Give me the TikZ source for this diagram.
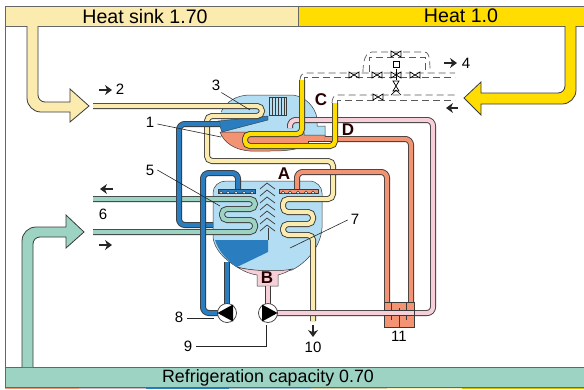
\documentclass[tikz,border=0pt]{standalone}
\usepackage{fontspec}
\setmainfont{Liberation Sans}
\usetikzlibrary{arrows.meta}
\definecolor{sinkc}{HTML}{FBEBAE}
\definecolor{heatc}{HTML}{FFDD00}
\definecolor{coldc}{HTML}{9DD3C2}
\definecolor{bluec}{HTML}{2A7DBF}
\definecolor{skyc}{HTML}{B3DDF2}
\definecolor{saltc}{HTML}{F29373}
\definecolor{pinkc}{HTML}{F6CFD8}
\definecolor{edgec}{HTML}{3A3A3A}
\tikzset{
  pipe/.style={draw=edgec, line width=0.9pt, double=#1, double distance=4.2pt, rounded corners=6pt},
  bar/.style={draw=black!60, fill=#1, line width=0.7pt},
  bigarrow/.style={draw=edgec, line width=0.8pt, fill=#1},
  dashpipe/.style={draw=black!65, line width=0.7pt, dash pattern=on 7pt off 4pt},
  valve/.style={draw=black, line width=0.7pt, fill=white},
  leader/.style={draw=black!85, line width=0.6pt},
  lbl/.style={font=\fontsize{15}{15}\selectfont, inner sep=0pt},
  letter/.style={font=\fontsize{17}{17}\selectfont\bfseries, text=black!85!red, inner sep=0pt},
  flow/.style={-{Stealth[length=7pt,width=10pt]}, line width=2pt, black!85},
  nozzle/.style={draw=edgec, fill=white, line width=0.5pt},
  pump/.style={circle, draw=edgec, fill=white, line width=0.7pt, minimum size=19pt, inner sep=0pt},
}
\newcommand{\valveh}[2]{\draw[valve] (#1-5,#2-3) -- (#1+5,#2+3) -- (#1+5,#2-3) -- (#1-5,#2+3) -- cycle;}
\newcommand{\valvev}[2]{\draw[valve] (#1-3,#2-5) -- (#1+3,#2+5) -- (#1-3,#2+5) -- (#1+3,#2-5) -- cycle;}
\begin{document}
\begin{tikzpicture}[x=1pt, y=-1pt]
\useasboundingbox (0,0) rectangle (584,389);
\draw[draw=black!60, line width=0.8pt] (5,26) -- (5,367);

% bars
\fill[saltc] (5,386) rectangle (79,389);
\fill[pinkc!70!gray] (79,386) rectangle (146,389);
\fill[bluec] (146,386) rectangle (229,389);
\fill[skyc!70!gray] (229,386) rectangle (311,389);
\fill[sinkc!70!gray] (311,386) rectangle (387,389);
\fill[sinkc] (387,386) rectangle (462,389);
\fill[heatc!85!black] (462,386) rectangle (584,389);
\draw[bar=sinkc] (5,6) rectangle (298,26);
\draw[bar=heatc] (298,6) rectangle (584,26);
\draw[bar=coldc] (5,367) rectangle (584,387);
\node[font=\fontsize{19.6}{20}\selectfont, inner sep=0pt] (sinklbl) at (145,16) {Heat sink 1.70};
\node[font=\fontsize{19.6}{20}\selectfont, inner sep=0pt] (heatlbl) at (461,16) {Heat 1.0};
\node[font=\fontsize{17.8}{18}\selectfont, inner sep=0pt] (coldlbl) at (268,378) {Refrigeration capacity 0.70};

% big arrows
\draw[bigarrow=sinkc] (27,26) [rounded corners=14pt] -- (27,112) [sharp corners] -- (70,112) -- (70,122) -- (89,106) -- (70,89) -- (70,102) [rounded corners=7pt] -- (38,102) [sharp corners] -- (38,26);
\draw[bigarrow=heatc] (576,26) [rounded corners=14pt] -- (576,104) [sharp corners] -- (481,104) -- (481,115) -- (464,98) -- (481,82) -- (481,93) [rounded corners=7pt] -- (565,93) [sharp corners] -- (565,26);
\draw[bigarrow=coldc] (22,367) [rounded corners=14pt] -- (22,227) [sharp corners] -- (66,227) -- (66,215) -- (84,232) -- (66,248) -- (66,237) [rounded corners=7pt] -- (33,237) [sharp corners] -- (33,367);

% upper vessel
\fill[skyc] (221,112) .. controls (226,102) and (236,95) .. (250,95) -- (293,95) .. controls (306,97) and (315,107) .. (317,118) -- (317,126) -- (325,126) -- (325,137) -- (221,137) -- cycle;
\draw[edgec, line width=0.5pt] (221,112) .. controls (226,102) and (236,95) .. (250,95) -- (293,95) .. controls (306,97) and (315,107) .. (317,118) -- (317,126) -- (325,126) -- (325,137);
\fill[saltc, draw=edgec, line width=0.5pt] (220,132) -- (304,132) -- (304,135) -- (325,135) -- (325,145) -- (304,146) .. controls (296,150) and (285,151) .. (270,151) -- (250,151) .. controls (235,150) and (224,143) .. (220,132) -- cycle;
\fill[bluec, draw=edgec, line width=0.4pt] (218,121) -- (268,116) -- (268,120) -- (222,132) -- cycle;
\draw[edgec, fill=skyc, line width=0.6pt] (269,97) rectangle (286,115);
\foreach \xk in {272,275,278,281,284}
  \draw[edgec, line width=0.6pt] (\xk,97) -- (\xk,115);

% lower vessel
\fill[skyc, draw=edgec, line width=0.5pt] (213,238) -- (213,193) .. controls (213,186) and (219,181) .. (226,181) -- (309,181) .. controls (317,181) and (322,187) .. (322,193) -- (322,228) .. controls (321,245) and (308,262) .. (292,270) .. controls (280,272) and (255,272) .. (237,267) .. controls (225,260) and (215,250) .. (213,238) -- cycle;
\fill[pinkc, draw=edgec, line width=0.5pt] (237,267) .. controls (250,271) and (280,272) .. (292,269) .. controls (287,272) and (282,274) .. (278,275) -- (278,286) -- (257,286) -- (257,275) .. controls (250,274) and (243,271) .. (237,267) -- cycle;
\fill[bluec] (215,240) -- (268,240) -- (268,252) -- (237,267) .. controls (226,260) and (218,250) .. (215,240) -- cycle;

% chevrons
\foreach \yk in {189,196,203,210,217,224,231}
  \draw[edgec, line width=0.7pt] (260,\yk) -- (267,\yk-6) -- (275,\yk);
\draw[edgec, line width=0.7pt] (268,228) -- (268,240);

% pipes
\draw[pipe=sinkc, rounded corners=5pt] (93,106) -- (262,106) -- (262,116) -- (207,116) -- (207,161) -- (333,161) -- (333,199) -- (283,199) -- (283,212) -- (313,212) -- (313,224) -- (283,224) -- (283,235) -- (313,235) -- (313,321);
\draw[pipe=coldc, rounded corners=5pt] (93,199) -- (255,199) -- (255,209) -- (222,209) -- (222,220) -- (255,220) -- (255,232) -- (93,232);
\draw[pipe=bluec] (213,225) -- (179,225) -- (179,124) -- (220,124);
\draw[pipe=bluec] (218,313) -- (203,313) -- (203,173) -- (238,173) -- (238,190);
\draw[pipe=bluec, rounded corners=0pt] (227,262) -- (227,305);
\draw[pipe=pinkc] (268,286) -- (268,305);
\draw[pipe=pinkc] (276,313) -- (433,313) -- (433,120) -- (290,120) -- (290,128);
\draw[pipe=saltc] (387,302) -- (387,172) -- (297,172) -- (297,190);
\draw[pipe=saltc] (325,139) -- (411,139) -- (411,302);
\fill[white, draw=edgec, line width=0.3pt] (308,141.5) rectangle (331,143.5);
\draw[pipe=heatc, rounded corners=5pt] (302,80) -- (302,134) -- (245,134) -- (245,146) -- (335,146) -- (335,103);

% spray bars
\fill[bluec, draw=edgec, line width=0.4pt] (218,189) rectangle (255,193);
\fill[saltc, draw=edgec, line width=0.4pt] (279,189) rectangle (318,193);
\foreach \xk in {221,228,236,244,252,283,290,298,306,313}
  \draw[nozzle] (\xk,192.5) circle (1.6pt);

% box 11
\draw[fill=saltc, draw=edgec, line width=0.6pt] (384,302) rectangle (414,327);
\foreach \xk in {391,406}
  \draw[edgec, line width=0.4pt] (\xk,302) -- (\xk,320);
\draw[edgec, line width=0.4pt] (399,308) -- (399,327);
\draw[pipe=pinkc] (384,313) -- (414,313);

% pumps
\node[pump] (pumpa) at (227,313) {};
\node[pump] (pumpb) at (268,313) {};
\fill[black] (217.5,313) -- (233,304.5) -- (233,321.5) -- cycle;
\fill[black] (277.5,313) -- (262,304.5) -- (262,321.5) -- cycle;

% dashed lines
\draw[dashpipe] (300,80) .. controls (300,76) and (302,73) .. (306,73) -- (455,73);
\draw[dashpipe] (304,80) -- (304,77) -- (455,77);
\draw[dashpipe] (332,103) .. controls (332,98) and (334,95) .. (338,95) -- (455,95);
\draw[dashpipe] (337,103) -- (337,100) -- (455,100);
\draw[dashpipe] (363,72) .. controls (363,60) and (366,52) .. (372,52) -- (424,52) .. controls (428,52) and (430,54) .. (430,72);
\draw[dashpipe] (369,72) -- (369,57) -- (425,57) -- (425,72);
\valveh{396}{54}
\valveh{354}{75}
\valveh{377}{75}
\valveh{396}{75}
\valveh{415}{75}
\valveh{378}{97}
\valvev{396}{86}
\draw[black, line width=0.7pt] (396,69) -- (396,80);
\draw[black, fill=white, line width=0.7pt] (393,61) rectangle (399,67);
\draw[black, line width=0.7pt] (391,95) -- (396,90) -- (401,95);

% labels
\node[letter] (lblA) at (284,174) {A};
\node[letter] (lblB) at (267,278) {B};
\node[letter] (lblC) at (321,100) {C};
\node[letter] (lblD) at (348,130) {D};
\node[lbl] (lbl1) at (150,122) {1};
\node[lbl] (lbl2) at (120,89) {2};
\node[lbl] (lbl3) at (216,85) {3};
\node[lbl] (lbl4) at (466,63) {4};
\node[lbl] (lbl5) at (150,170) {5};
\node[lbl] (lbl6) at (103,214) {6};
\node[lbl] (lbl7) at (355,219) {7};
\node[lbl] (lbl8) at (179,317) {8};
\node[lbl] (lbl9) at (188,346) {9};
\node[lbl] (lbl10) at (313,347) {10};
\node[lbl] (lbl11) at (399,336) {11};

\coordinate (end1) at (221,137);
\coordinate (end3) at (250,110);
\coordinate (end5) at (220,206);
\coordinate (end7) at (290,248);
\coordinate (end8) at (214,318);
\coordinate (end9) at (266,325);
\draw[leader] (lbl1.east) ++(3,2) -- (end1);
\draw[leader] (lbl3.south east) ++(1,2) -- (end3);
\draw[leader] (lbl5.east) ++(3,0) -- (end5);
\draw[leader] (lbl7.west) ++(-3,1) -- (end7);
\draw[leader] (lbl8.east) ++(4,1) -- (end8);
\draw[leader] (lbl9.east) ++(4,0) -| (end9);

% flow arrows
\draw[flow] (99,90) -- (112,90);
\draw[flow] (444,63) -- (457,63);
\draw[flow] (113,189) -- (100,189);
\draw[flow] (99,245) -- (112,245);
\draw[flow] (458,108) -- (446,108);
\draw[flow] (313,325) -- (313,337);
\end{tikzpicture}
\end{document}
